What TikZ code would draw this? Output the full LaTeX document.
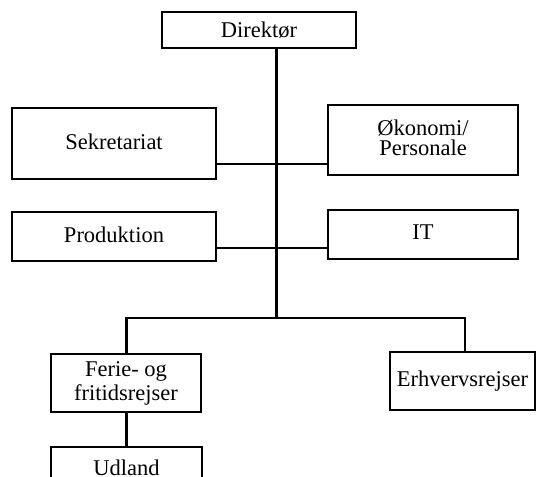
\documentclass[tikz,border=0pt]{standalone}
\usepackage{fontspec}
\setmainfont{Liberation Serif}
\begin{document}
\begin{tikzpicture}[x=1pt,y=-1pt,
  box/.style={draw,line width=2.1pt,rectangle,inner sep=0pt,align=center,
    font=\fontsize{22.5}{24}\selectfont},
  conn/.style={line width=2.1pt}]
\useasboundingbox (0,0) rectangle (536,477);
\clip (0,0) rectangle (536,477);
\node[box,minimum width=194pt,minimum height=36pt] (dir) at (259,30) {\raisebox{-1pt}{Direktør}};
\node[box,minimum width=204pt,minimum height=71pt] (sek) at (114,143.5) {\raisebox{4.5pt}{Sekretariat}};
\node[box,minimum width=190pt,minimum height=70pt] (oko) at (423,140) {\raisebox{4pt}{\shortstack{Økonomi/\\[1pt]Personale}}};
\node[box,minimum width=204pt,minimum height=49pt] (prod) at (114,236.5) {\raisebox{4.5pt}{Produktion}};
\node[box,minimum width=190pt,minimum height=49pt] (it) at (423,234.5) {\raisebox{5.5pt}{IT}};
\node[box,minimum width=150pt,minimum height=58pt] (fer) at (126,383) {Ferie- og\\fritidsrejser};
\node[box,minimum width=145pt,minimum height=58pt] (erh) at (462.5,381) {Erhvervsrejser};
\node[box,minimum width=151pt,minimum height=50pt] (udl) at (126.5,472) {\raisebox{9pt}{Udland}};
\coordinate (t) at (276.5,318);
\coordinate (bl) at (126.5,318);
\coordinate (br) at (465,318);
\draw[conn] (dir.south -| t) -- (t);
\draw[conn] (sek.east |- 0,164) -- (oko.west |- 0,164);
\draw[conn] (prod.east |- 0,248) -- (it.west |- 0,248);
\draw[conn] (fer.north -| bl) -- (bl) -- (br) -- (erh.north -| br);
\draw[conn] (fer.south -| bl) -- (udl.north -| bl);
\end{tikzpicture}
\end{document}
